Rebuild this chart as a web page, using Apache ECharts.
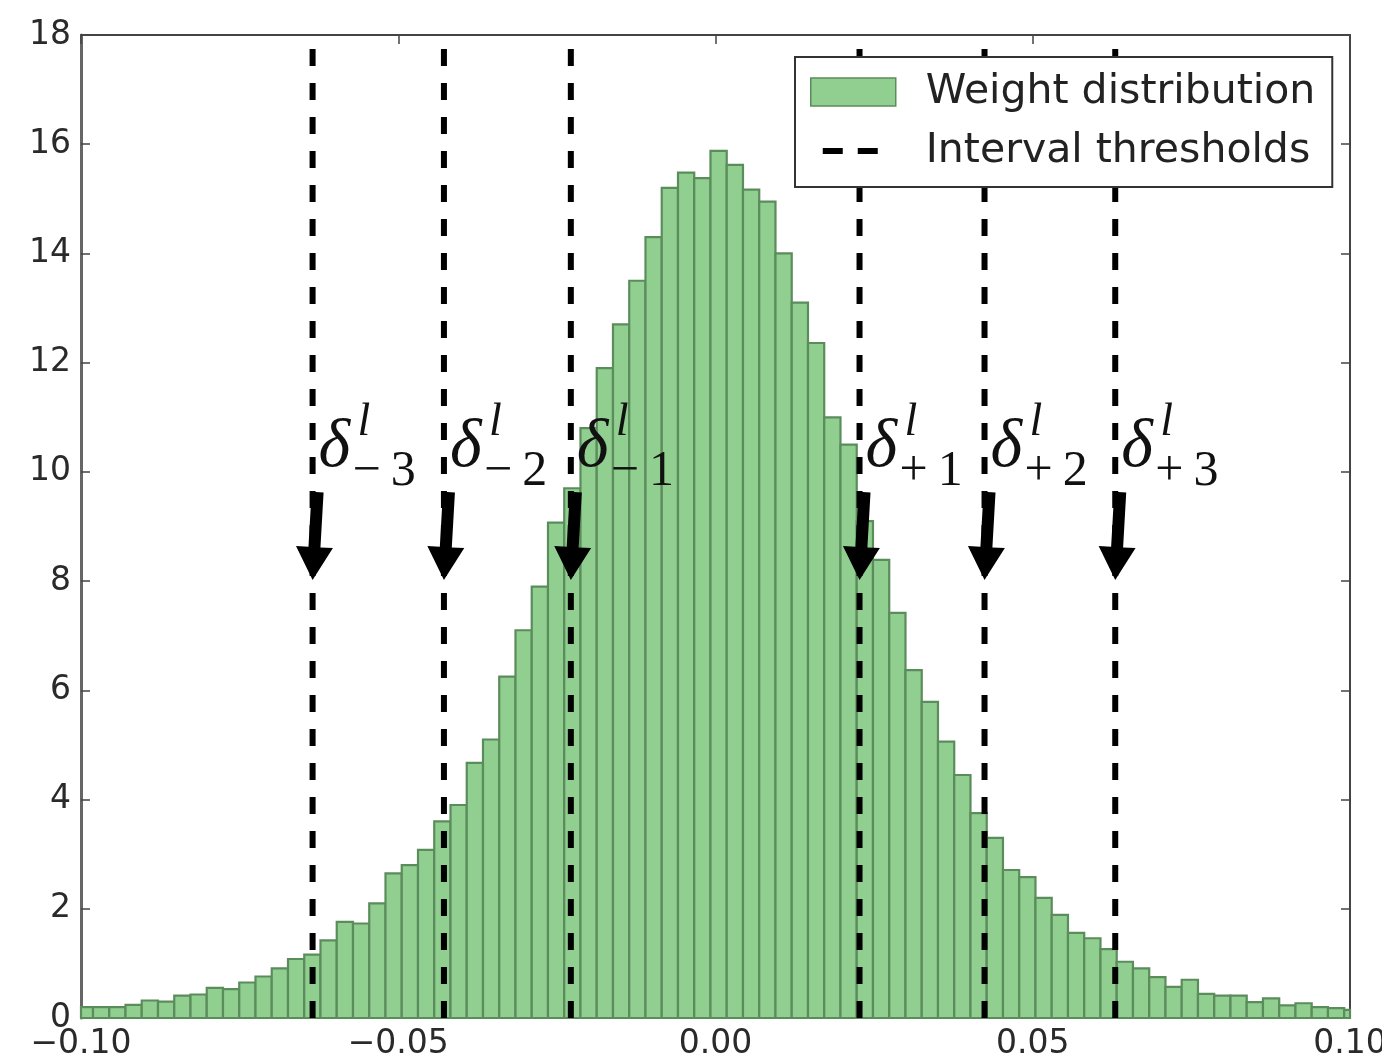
<!DOCTYPE html>
<html><head><meta charset="utf-8">
<script src="https://cdn.jsdelivr.net/npm/echarts@6/dist/echarts.min.js"></script>
<style>html,body{margin:0;padding:0;background:#fff;overflow:hidden;width:1382px;height:1063px}#chart{width:1382px;height:1063px}</style>
</head><body><div id="chart"></div>
<script>
// ---- data ----
const binStart = -0.10067;   // left edge of first histogram bin
const binWidth = 0.002561;   // histogram bin width
const weightDensity = [
  0.20, 0.20, 0.20, 0.24, 0.32, 0.30, 0.41, 0.43, 0.55, 0.53,
  0.65, 0.76, 0.91, 1.08, 1.16, 1.42, 1.76, 1.73, 2.10, 2.65,
  2.80, 3.08, 3.60, 3.90, 4.67, 5.10, 6.25, 7.10, 7.90, 9.07,
  9.70, 10.8, 11.9, 12.7, 13.5, 14.3, 15.2, 15.48, 15.38, 15.88,
  15.62, 15.17, 14.95, 14.0, 13.1, 12.36, 11.0, 10.5, 9.10, 8.39,
  7.42, 6.37, 5.79, 5.06, 4.45, 3.75, 3.30, 2.71, 2.58, 2.20,
  1.89, 1.56, 1.46, 1.26, 1.03, 0.91, 0.75, 0.57, 0.70, 0.44,
  0.41, 0.41, 0.29, 0.36, 0.23, 0.27, 0.20, 0.18, 0.15
];
const thresholds = [-0.0635, -0.0428, -0.0228, 0.0227, 0.0424, 0.0630];
const thresholdSubscripts = ['\u2212\u20093', '\u2212\u20092', '\u2212\u20091', '+\u20091', '+\u20092', '+\u20093'];
const arrowTailY = 9.63;
const arrowTipY = 8.02;
const labelBaseY = 10.03;
const xTickLabels = ['\u22120.10', '\u22120.05', '0.00', '0.05', '0.10'];
const xTickValues = [-0.10, -0.05, 0.00, 0.05, 0.10];
const yTickLabels = ['0', '2', '4', '6', '8', '10', '12', '14', '16', '18'];

// ---- styles ----
const barFill = '#90cf90';
const barEdge = '#5b8c5b';
const axisColor = '#444';
const tickFont = { fontFamily: 'DejaVu Sans', fontSize: 33, color: '#2a2a2a' };

const chart = echarts.init(document.getElementById('chart'), null, { renderer: 'canvas', width: 1382, height: 1063 });

function xLabel(v) {
  for (let i = 0; i < xTickValues.length; i++) {
    if (Math.abs(v - xTickValues[i]) < 1e-9) return xTickLabels[i];
  }
  return '';
}
function yLabel(v) {
  const idx = Math.round(v / 2);
  return yTickLabels[idx] !== undefined ? yTickLabels[idx] : '';
}

const barData = weightDensity.map((h, i) => [binStart + i * binWidth, binStart + (i + 1) * binWidth, h]);

const option = {
  animation: false,
  backgroundColor: '#fff',
  grid: { left: 81, right: 32, top: 35, bottom: 45, containLabel: false, outerBoundsMode: 'none' },
  xAxis: [
    {
      type: 'value', min: -0.1, max: 0.1, interval: 0.05, position: 'bottom',
      axisLine: { show: true, onZero: false, lineStyle: { color: axisColor, width: 2 } },
      axisTick: { show: true, inside: true, length: 9, lineStyle: { color: axisColor, width: 1.5 } },
      axisLabel: Object.assign({ margin: 10, formatter: xLabel, showMinLabel: true, showMaxLabel: true }, tickFont),
      splitLine: { show: false }
    },
    {
      type: 'value', min: -0.1, max: 0.1, interval: 0.05, position: 'top',
      axisLine: { show: true, onZero: false, lineStyle: { color: axisColor, width: 2 } },
      axisTick: { show: true, inside: true, length: 9, lineStyle: { color: axisColor, width: 1.5 } },
      axisLabel: { show: false },
      splitLine: { show: false }
    }
  ],
  yAxis: [
    {
      type: 'value', min: 0, max: 18, interval: 2, position: 'left',
      axisLine: { show: true, onZero: false, lineStyle: { color: '#666', width: 3 } },
      axisTick: { show: true, inside: true, length: 9, lineStyle: { color: axisColor, width: 1.5 } },
      axisLabel: Object.assign({ margin: 10, formatter: yLabel }, tickFont),
      splitLine: { show: false }
    },
    {
      type: 'value', min: 0, max: 18, interval: 2, position: 'right',
      axisLine: { show: true, onZero: false, lineStyle: { color: axisColor, width: 2 } },
      axisTick: { show: true, inside: true, length: 9, lineStyle: { color: axisColor, width: 1.5 } },
      axisLabel: { show: false },
      splitLine: { show: false }
    }
  ],
  legend: {
    orient: 'vertical',
    left: 795, top: 57,
    itemWidth: 85, itemHeight: 28, itemGap: 15,
    padding: [13, 17, 14, 15],
    borderColor: '#333', borderWidth: 2, backgroundColor: '#fff',
    selectedMode: false,
    textStyle: { fontFamily: 'DejaVu Sans', fontSize: 41, color: '#222', lineHeight: 44, padding: [0, 0, 0, 25] },
    data: [
      { name: 'Weight distribution', icon: 'rect', itemStyle: { color: barFill, borderColor: barEdge, borderWidth: 1.5 } },
      { name: 'Interval thresholds', icon: 'path://M0,0M85,28M12,11h20v6h-20zM47,11h20v6h-20z', itemStyle: { color: '#000', borderWidth: 0 } }
    ]
  },
  series: [
    {
      name: 'Weight distribution', type: 'custom', z: 2,
      data: barData,
      encode: { x: [0, 1], y: 2 },
      itemStyle: { color: barFill },
      renderItem: function (params, api) {
        const p0 = api.coord([api.value(0), api.value(2)]);
        const p1 = api.coord([api.value(1), 0]);
        const cs = params.coordSys;
        const shape = echarts.graphic.clipRectByRect(
          { x: p0[0], y: p0[1], width: p1[0] - p0[0], height: p1[1] - p0[1] },
          { x: cs.x, y: cs.y, width: cs.width, height: cs.height });
        if (!shape) return;
        return { type: 'rect', shape: shape, style: { fill: barFill, stroke: barEdge, lineWidth: 2.2 } };
      }
    },
    {
      name: 'Interval thresholds', type: 'custom', z: 3,
      data: thresholds.map(t => [t]),
      encode: { x: 0 },
      itemStyle: { color: '#000' },
      renderItem: function (params, api) {
        const t = api.value(0);
        const a = api.coord([t, 0]);
        const b = api.coord([t, 18]);
        return { type: 'line', shape: { x1: a[0], y1: a[1], x2: b[0], y2: b[1] },
          style: { stroke: '#000', lineWidth: 6, lineDash: [17, 17], lineCap: 'butt' } };
      }
    },
    {
      name: 'arrows', type: 'custom', z: 4,
      data: thresholds.map(t => [t]),
      encode: { x: 0 },
      renderItem: function (params, api) {
        const t = api.value(0);
        const tip = api.coord([t, arrowTipY]);
        const tail = api.coord([t, arrowTailY]);
        tail[0] += 5;
        const dx = tip[0] - tail[0], dy = tip[1] - tail[1];
        const len = Math.sqrt(dx * dx + dy * dy);
        const ux = dx / len, uy = dy / len;
        const nx = -uy, ny = ux;
        const sw = 6, hw = 18.5, hl = 33;
        const bx = tip[0] - ux * hl, by = tip[1] - uy * hl;
        const pts = [
          [tail[0] + nx * sw, tail[1] + ny * sw],
          [bx + nx * sw, by + ny * sw],
          [bx + nx * hw, by + ny * hw],
          [tip[0], tip[1]],
          [bx - nx * hw, by - ny * hw],
          [bx - nx * sw, by - ny * sw],
          [tail[0] - nx * sw, tail[1] - ny * sw]
        ];
        return { type: 'polygon', shape: { points: pts }, style: { fill: '#000' } };
      }
    },
    {
      name: 'threshold labels', type: 'custom', z: 5,
      data: thresholds.map((t, i) => [t, i]),
      encode: { x: 0 },
      renderItem: function (params, api) {
        const t = api.value(0);
        const idx = api.value(1);
        const p = api.coord([t, labelBaseY]);
        const serif = 'Liberation Serif';
        return {
          type: 'group',
          children: [
            { type: 'text', style: { text: '\u03b4', x: p[0] + 6, y: p[1] - 22, fontFamily: serif, fontStyle: 'italic', fontSize: 68, fill: '#111', verticalAlign: 'middle', align: 'left' } },
            { type: 'text', style: { text: 'l', x: p[0] + 45, y: p[1] - 47, fontFamily: serif, fontStyle: 'italic', fontSize: 46, fill: '#111', verticalAlign: 'middle', align: 'left' } },
            { type: 'text', style: { text: thresholdSubscripts[idx], x: p[0] + 40, y: p[1] + 2, fontFamily: serif, fontSize: 50, fill: '#111', verticalAlign: 'middle', align: 'left' } }
          ]
        };
      }
    }
  ]
};
chart.setOption(option);
</script>
</body></html>
